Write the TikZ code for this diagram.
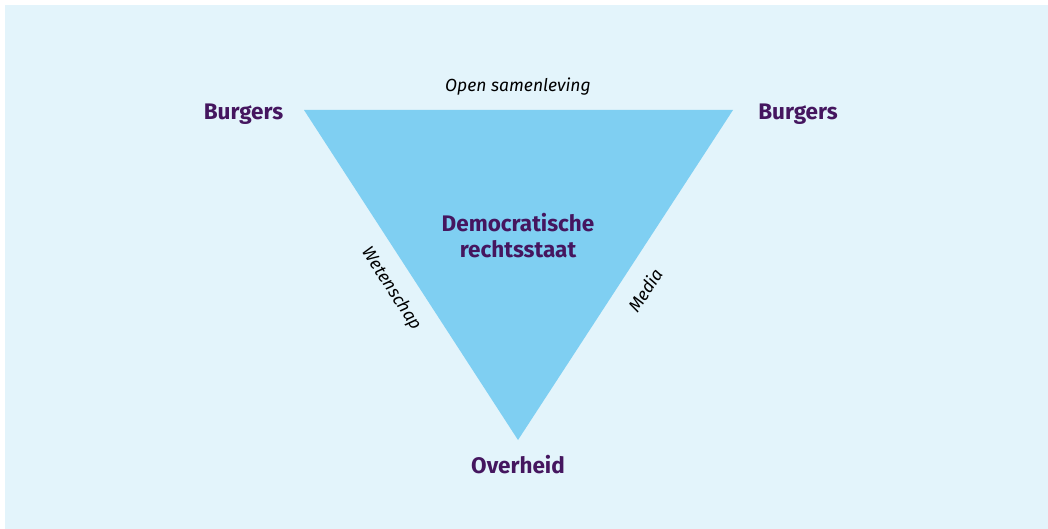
\documentclass[tikz,border=0pt]{standalone}
\usepackage{fontspec}
\setmainfont{Fira Sans}
\definecolor{bg}{HTML}{E3F4FB}
\definecolor{tri}{HTML}{7FCFF2}
\definecolor{purp}{HTML}{45165F}
\begin{document}
\begin{tikzpicture}[x=1pt,y=-1pt,
  vertex/.style={font=\fontsize{22.5}{26.5}\selectfont\bfseries, text=purp, inner sep=0pt, anchor=base},
  edgelbl/.style={font=\fontsize{17.5}{19}\selectfont\itshape, text=black, inner sep=0pt}]
\useasboundingbox (0,0) rectangle (1048,529);
\fill[bg] (5,5) rectangle (1048,529);
\coordinate (tl) at (304,110);
\coordinate (tr) at (733,110);
\coordinate (bt) at (518,440);
\fill[tri] (tl) -- (tr) -- (bt) -- cycle;
\node[vertex] (b1) at (243.5,120) {Burgers};
\node[vertex] (b2) at (798,120) {Burgers};
\node[vertex] (ov) at (518,473) {Overheid};
\node[vertex] (d1) at (518,231) {Democratische};
\node[vertex] (d2) at (518,257) {rechtsstaat};
\node[edgelbl, anchor=base] (os) at (518,92) {Open samenleving};
\node[edgelbl, rotate=-57] (we) at (391,289) {Wetenschap};
\node[edgelbl, rotate=57] (me) at (645,290) {Media};
\end{tikzpicture}
\end{document}
